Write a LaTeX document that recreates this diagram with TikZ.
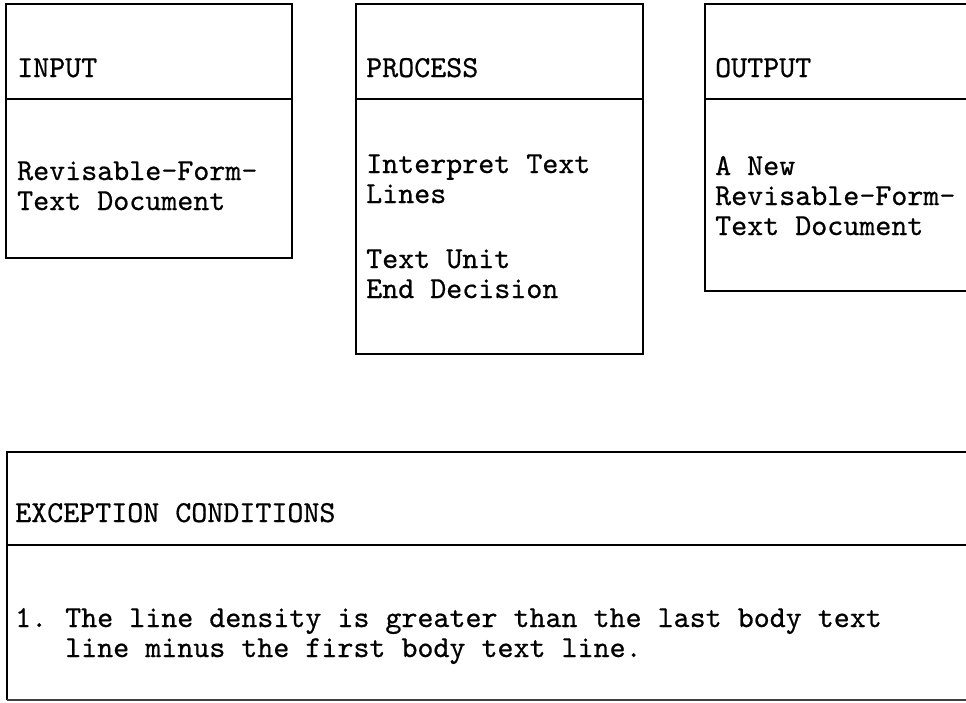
\documentclass[tikz,border=0pt]{standalone}
\usepackage{fontspec}
\newfontfamily\typewr[FakeBold=0.6]{lmmono10-regular.otf}
\begin{document}
\begin{tikzpicture}[x=1pt,y=-1pt,
  frame/.style={line width=1.3pt, line join=miter},
  faint/.style={line width=1.1pt, black!75},
  txt/.style={anchor=base west, inner sep=0pt, font=\typewr\fontsize{30.5}{30}\selectfont}]
\useasboundingbox (0,0) rectangle (966,702);
% INPUT box
\draw[frame] (6,4) rectangle (292,258);
\draw[frame] (6,99) -- (292,99);
\node[txt] (inH) at (17,77) {INPUT};
\node[txt] (in1) at (17,180) {Revisable-Form-};
\node[txt] (in2) at (17,210) {Text Document};
% PROCESS box
\draw[frame] (356,4) rectangle (643,354);
\draw[frame] (356,99) -- (643,99);
\node[txt] (prH) at (366,77) {PROCESS};
\node[txt] (pr1) at (366,173) {Interpret Text};
\node[txt] (pr2) at (366,203) {Lines};
\node[txt] (pr3) at (366,268) {Text Unit};
\node[txt] (pr4) at (366,298) {End Decision};
% OUTPUT box (open at right)
\draw[frame] (966,4) -- (705,4) -- (705,291) -- (966,291);
\draw[frame] (705,99) -- (966,99);
\node[txt] (ouH) at (715,77) {OUTPUT};
\node[txt] (ou1) at (715,175) {A New};
\node[txt] (ou2) at (715,205) {Revisable-Form-};
\node[txt] (ou3) at (715,235) {Text Document};
% EXCEPTION box (open at right)
\draw[frame] (966,452) -- (7,452) -- (7,700);
\draw[faint] (7,700) -- (966,700);
\draw[frame] (7,545) -- (966,545);
\node[txt] (exH) at (15,522) {EXCEPTION CONDITIONS};
\node[txt] (exN) at (15,627) {1.};
\node[txt] (ex1) at (65,627) {The line density is greater than the last body text};
\node[txt] (ex2) at (65,657) {line minus the first body text line.};
\end{tikzpicture}
\end{document}
